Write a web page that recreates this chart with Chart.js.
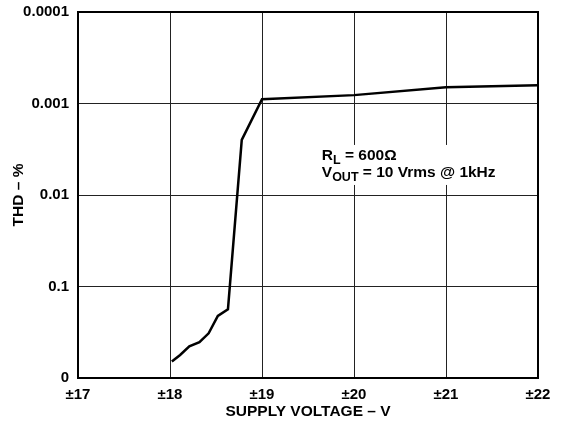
<!DOCTYPE html>
<html>
<head>
<meta charset="utf-8">
<script src="https://cdn.jsdelivr.net/npm/chart.js@4/dist/chart.umd.min.js"></script>
<style>
  body { margin: 0; background: #fff; }
  canvas { display: block; }
</style>
</head>
<body>
<canvas id="thd-chart" width="561" height="423"></canvas>
<script>
// Data
const supplyVoltage = [18.02, 18.11, 18.21, 18.32, 18.42, 18.52, 18.63, 18.78, 19.0, 20.0, 21.0, 22.0];
const thdPercent = [0.66, 0.56, 0.45, 0.405, 0.325, 0.21, 0.177, 0.0025, 0.0009, 0.00081, 0.000665, 0.00063];

const yTickValues = [0.0001, 0.001, 0.01, 0.1, 1];
const yTickLabels = ['0.0001', '0.001', '0.01', '0.1', '0'];
const xTickValues = [17, 18, 19, 20, 21, 22];

const fontFamily = 'Liberation Sans, Arial, sans-serif';
const tickFont = { family: fontFamily, size: 15, weight: 'bold' };
const titleFont = { family: fontFamily, size: 15.5, weight: 'bold' };

// frame around the plot area
const framePlugin = {
    id: 'frame',
    afterDatasetsDraw(chart) {
        const { ctx, chartArea } = chart;
        ctx.save();
        ctx.strokeStyle = '#000';
        ctx.lineWidth = 2;
        ctx.strokeRect(chartArea.left, chartArea.top, chartArea.right - chartArea.left, chartArea.bottom - chartArea.top);
        ctx.restore();
    }
};

// note with subscripts, on a white box
const notePlugin = {
    id: 'note',
    beforeDatasetsDraw(chart) {
        const { ctx } = chart;
        const xs = chart.scales.x, ys = chart.scales.y;
        const x0 = xs.getPixelForValue(19.65);
        const y1 = ys.getPixelForValue(0.00414);
        const y2 = y1 + 17;
        ctx.save();
        ctx.fillStyle = '#fff';
        ctx.fillRect(x0 - 4, y1 - 15, 184, 40);
        ctx.fillStyle = '#000';
        ctx.textBaseline = 'alphabetic';
        const big = 'bold 15.5px ' + fontFamily;
        const small = 'bold 12.5px ' + fontFamily;
        const parts = (y, segs) => {
            let x = x0;
            segs.forEach(([t, sub]) => {
                ctx.font = sub ? small : big;
                ctx.fillText(t, x, sub ? y + 4 : y);
                x += ctx.measureText(t).width;
            });
        };
        parts(y1, [['R', false], ['L', true], [' = 600\u03A9', false]]);
        parts(y2, [['V', false], ['OUT', true], [' = 10 Vrms @ 1kHz', false]]);
        ctx.restore();
    }
};

new Chart(document.getElementById('thd-chart'), {
    type: 'line',
    data: {
        datasets: [{
            data: supplyVoltage.map((v, i) => ({ x: v, y: thdPercent[i] })),
            borderColor: '#000',
            borderWidth: 2.5,
            pointRadius: 0,
            tension: 0,
            fill: false
        }]
    },
    options: {
        responsive: false,
        animation: false,
        layout: { padding: { left: 0, right: 23, top: 12, bottom: 0 } },
        plugins: { legend: { display: false }, tooltip: { enabled: false } },
        scales: {
            x: {
                type: 'linear',
                min: 17,
                max: 22,
                afterBuildTicks: (scale) => { scale.ticks = xTickValues.map(v => ({ value: v })); },
                afterFit: (scale) => {
                    scale.height = 45;
                    scale.paddingLeft = 0;
                    scale.paddingRight = 0;
                },
                ticks: {
                    color: '#000',
                    font: tickFont,
                    padding: 8,
                    maxRotation: 0,
                    callback: (v) => '\u00B1' + v
                },
                grid: { color: '#222', lineWidth: 1, drawTicks: false },
                border: { display: false },
                title: {
                    display: true,
                    text: 'SUPPLY VOLTAGE \u2013 V',
                    color: '#000',
                    font: titleFont,
                    padding: { top: 0, bottom: 2 }
                }
            },
            y: {
                type: 'logarithmic',
                reverse: true,
                min: 0.0001,
                max: 1,
                afterBuildTicks: (scale) => { scale.ticks = yTickValues.map(v => ({ value: v })); },
                afterFit: (scale) => {
                    scale.width = 78;
                    scale.paddingTop = 0;
                    scale.paddingBottom = 0;
                },
                ticks: {
                    color: '#000',
                    font: tickFont,
                    padding: 9,
                    callback: (v) => yTickLabels[yTickValues.indexOf(v)]
                },
                grid: { color: '#222', lineWidth: 1, drawTicks: false },
                border: { display: false },
                title: {
                    display: true,
                    text: 'THD \u2013 %',
                    color: '#000',
                    font: titleFont,
                    padding: { top: 9, bottom: 0 }
                }
            }
        }
    },
    plugins: [notePlugin, framePlugin]
});
</script>
</body>
</html>
